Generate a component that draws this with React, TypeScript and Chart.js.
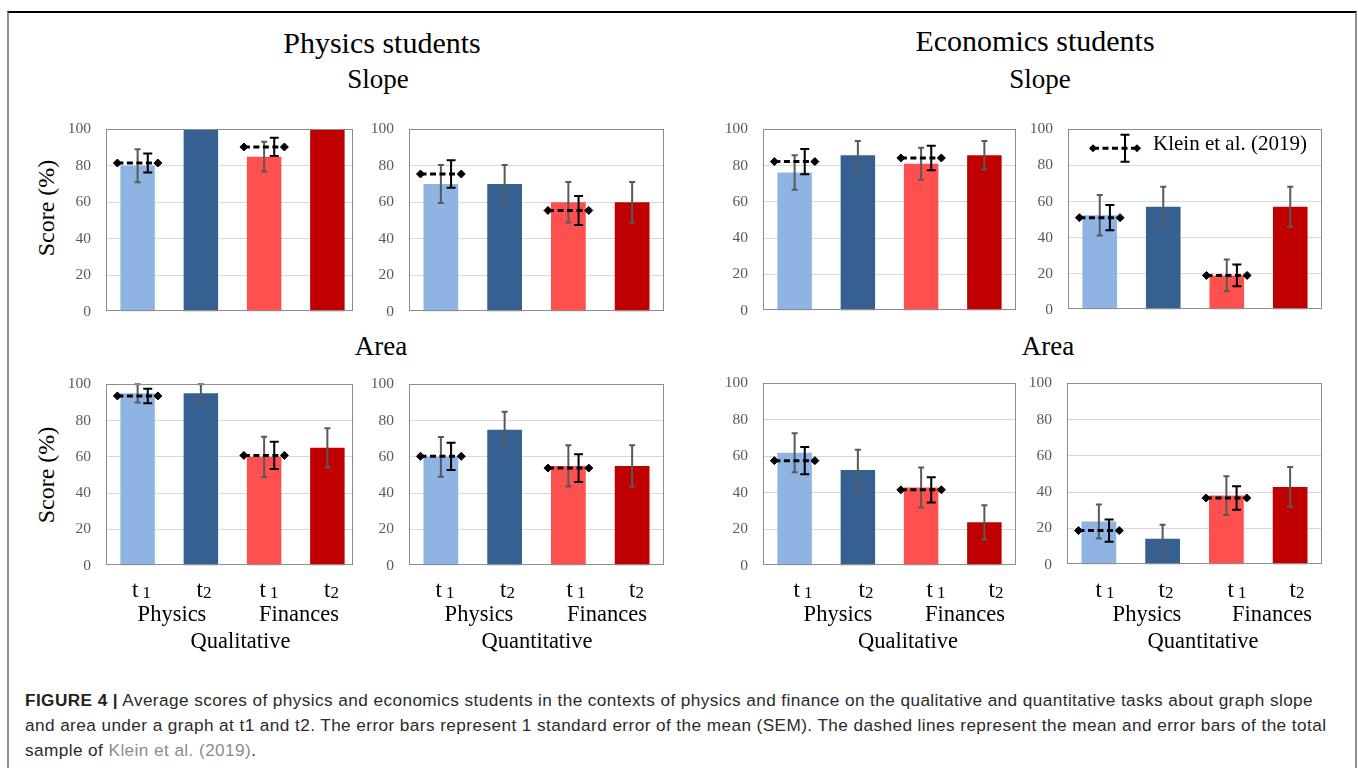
import React, { useEffect, useRef } from "react";
import { Chart, registerables } from "chart.js";

Chart.register(...registerables);

const SERIF = '"Liberation Serif", "Times New Roman", serif';
const SANS = '"Liberation Sans", Arial, Helvetica, sans-serif';

// Bar order in every panel: physics t1, physics t2, finances t1, finances t2
const categories = ["Physics t1", "Physics t2", "Finances t1", "Finances t2"];
const barColors = ["#8EB4E3", "#376092", "#FF5050", "#C00000"];
const yTickStep = 20;
const yMax = 100;
const timeSubscripts = ["1", "2", "1", "2"];
const contextLabels = ["Physics", "Finances"];
const taskLabels = ["Qualitative", "Quantitative"];
const legendLabel = "Klein et al. (2019)";

// Physics students, slope
const physSlopeQualMean = [80, 100, 85, 100];
const physSlopeQualSem = [9, 0, 8.2, 0];
const physSlopeQualKlein = [81.5, null, 90.3, null];
const physSlopeQualKleinSem = [5.2, null, 5, null];

const physSlopeQuantMean = [70, 70, 60, 60];
const physSlopeQuantSem = [10.4, 10.4, 11.1, 11.1];
const physSlopeQuantKlein = [75.5, null, 55.5, null];
const physSlopeQuantKleinSem = [7.6, null, 8, null];

// Economics students, slope
const econSlopeQualMean = [76.2, 85.7, 81, 85.7];
const econSlopeQualSem = [9.5, 7.8, 8.8, 7.8];
const econSlopeQualKlein = [82.2, null, 84.2, null];
const econSlopeQualKleinSem = [7, null, 6.8, null];

const econSlopeQuantMean = [52.4, 57.1, 19, 57.1];
const econSlopeQuantSem = [11.2, 11.1, 8.8, 11.1];
const econSlopeQuantKlein = [51, null, 19, null];
const econSlopeQuantKleinSem = [7, null, 6, null];

// Physics students, area
const physAreaQualMean = [95, 95, 60, 65];
const physAreaQualSem = [5, 5, 11.1, 10.8];
const physAreaQualKlein = [93.6, null, 60.8, null];
const physAreaQualKleinSem = [4, null, 7.5, null];

const physAreaQuantMean = [60, 75, 55, 55];
const physAreaQuantSem = [11, 9.8, 11.4, 11.4];
const physAreaQuantKlein = [60.3, null, 53.8, null];
const physAreaQuantKleinSem = [7.5, null, 7.7, null];

// Economics students, area
const econAreaQualMean = [61.9, 52.4, 42.9, 23.8];
const econAreaQualSem = [10.7, 11.2, 11, 9.4];
const econAreaQualKlein = [57.6, null, 41.6, null];
const econAreaQualKleinSem = [7.5, null, 6.9, null];

const econAreaQuantMean = [23.8, 14.3, 38.1, 42.9];
const econAreaQuantSem = [9.4, 7.7, 10.7, 11];
const econAreaQuantKlein = [18.8, null, 36.8, null];
const econAreaQuantKleinSem = [6.1, null, 6.5, null];

type Box = { l: number; t: number; r: number; b: number };
type PanelProps = {
  box: Box;
  mean: number[];
  sem: number[];
  klein: (number | null)[];
  kleinSem: (number | null)[];
  frameInset?: number;
  legend?: boolean;
};

const panels: PanelProps[] = [
  { box: { l: 106, t: 125, r: 359, b: 316 }, frameInset: 6, mean: physSlopeQualMean, sem: physSlopeQualSem, klein: physSlopeQualKlein, kleinSem: physSlopeQualKleinSem },
  { box: { l: 409, t: 125, r: 664, b: 316 }, mean: physSlopeQuantMean, sem: physSlopeQuantSem, klein: physSlopeQuantKlein, kleinSem: physSlopeQuantKleinSem },
  { box: { l: 763, t: 125, r: 1016, b: 315 }, mean: econSlopeQualMean, sem: econSlopeQualSem, klein: econSlopeQualKlein, kleinSem: econSlopeQualKleinSem },
  { box: { l: 1068, t: 125, r: 1322, b: 314 }, legend: true, mean: econSlopeQuantMean, sem: econSlopeQuantSem, klein: econSlopeQuantKlein, kleinSem: econSlopeQuantKleinSem },
  { box: { l: 106, t: 380, r: 359, b: 570 }, frameInset: 6, mean: physAreaQualMean, sem: physAreaQualSem, klein: physAreaQualKlein, kleinSem: physAreaQualKleinSem },
  { box: { l: 409, t: 380, r: 664, b: 570 }, mean: physAreaQuantMean, sem: physAreaQuantSem, klein: physAreaQuantKlein, kleinSem: physAreaQuantKleinSem },
  { box: { l: 763, t: 379, r: 1016, b: 570 }, mean: econAreaQualMean, sem: econAreaQualSem, klein: econAreaQualKlein, kleinSem: econAreaQualKleinSem },
  { box: { l: 1067, t: 379, r: 1322, b: 569 }, mean: econAreaQuantMean, sem: econAreaQuantSem, klein: econAreaQuantKlein, kleinSem: econAreaQuantKleinSem },
];

// Axis label placement under the lower panels (x centres)
const lowerAxisLabels = [
  { t: [141.5, 204, 269, 331.5], ctx: [172, 299], task: 240.5, taskIdx: 0 },
  { t: [445, 507.5, 576, 636.5], ctx: [479, 607], task: 537, taskIdx: 1 },
  { t: [803, 866, 936, 996], ctx: [838, 965], task: 908, taskIdx: 0 },
  { t: [1105, 1166, 1237, 1297], ctx: [1147, 1272], task: 1203, taskIdx: 1 },
];

const PAD_L = 70;
const PAD_T = 20;
const PAD_R = 20;
const PAD_B = 20;

function errorBar(ctx: CanvasRenderingContext2D, x: number, yTop: number, yBot: number, cap: number) {
  ctx.beginPath();
  ctx.moveTo(x, yTop);
  ctx.lineTo(x, yBot);
  ctx.moveTo(x - cap, yTop);
  ctx.lineTo(x + cap, yTop);
  ctx.moveTo(x - cap, yBot);
  ctx.lineTo(x + cap, yBot);
  ctx.stroke();
}

function diamond(ctx: CanvasRenderingContext2D, x: number, y: number, r: number) {
  ctx.beginPath();
  ctx.moveTo(x - r, y);
  ctx.lineTo(x, y - r);
  ctx.lineTo(x + r, y);
  ctx.lineTo(x, y + r);
  ctx.closePath();
  ctx.fill();
}

function BarPanel({ box, mean, sem, klein, kleinSem, frameInset = 0, legend = false }: PanelProps) {
  const ref = useRef<HTMLCanvasElement>(null);
  const w = box.r - box.l + PAD_L + PAD_R;
  const h = box.b - box.t + PAD_T + PAD_B;
  const left = box.l - PAD_L;
  const top = box.t - PAD_T;
  const clipW = frameInset ? w - PAD_R - frameInset + 1 : w;

  useEffect(() => {
    const canvas = ref.current;
    if (!canvas) return;

    const kleinSets: any[] = [];
    klein.forEach((v, i) => {
      if (v == null) return;
      kleinSets.push({
        type: "line",
        xAxisID: "xk",
        yAxisID: "y",
        data: [
          { x: i - 0.32, y: v },
          { x: i + 0.32, y: v },
        ],
        borderColor: "#000",
        borderWidth: 3,
        borderDash: [6, 3.5],
        pointStyle: "rectRot",
        pointRadius: 4,
        pointHoverRadius: 4,
        pointBackgroundColor: "#000",
        pointBorderColor: "#000",
        pointBorderWidth: 1,
        order: 0,
      });
    });

    const marks = {
      id: "scoreMarks",
      afterDatasetDraw(chart: any, args: any) {
        if (args.index !== 0) return;
        const ctx = chart.ctx as CanvasRenderingContext2D;
        const xs = chart.scales.x;
        const ys = chart.scales.y;
        ctx.save();
        ctx.strokeStyle = "#595959";
        ctx.lineWidth = 2;
        mean.forEach((m, i) => {
          const s = sem[i];
          if (!s) return;
          errorBar(ctx, xs.getPixelForValue(i), ys.getPixelForValue(m + s), ys.getPixelForValue(m - s), 3);
        });
        ctx.restore();
      },
      afterDatasetsDraw(chart: any) {
        const ctx = chart.ctx as CanvasRenderingContext2D;
        const a = chart.chartArea;
        const xk = chart.scales.xk;
        const ys = chart.scales.y;
        ctx.save();
        // plot frame
        ctx.strokeStyle = "#8C8C8C";
        ctx.lineWidth = 1;
        const right = a.right - frameInset;
        ctx.strokeRect(Math.round(a.left) + 0.5, Math.round(a.top) + 0.5, Math.round(right - a.left) - 1, Math.round(a.bottom - a.top) - 1);
        // reference sample error bars
        ctx.strokeStyle = "#000";
        ctx.lineWidth = 2;
        klein.forEach((v, i) => {
          const s = kleinSem[i];
          if (v == null || s == null) return;
          errorBar(ctx, xk.getPixelForValue(i + 0.16), ys.getPixelForValue(v + s), ys.getPixelForValue(v - s), 4.5);
        });
        if (legend) {
          const ly = a.top + 19;
          const x1 = a.left + 25;
          const x2 = a.left + 69;
          ctx.setLineDash([6, 3.5]);
          ctx.lineWidth = 3;
          ctx.beginPath();
          ctx.moveTo(x1, ly);
          ctx.lineTo(x2, ly);
          ctx.stroke();
          ctx.setLineDash([]);
          ctx.fillStyle = "#000";
          diamond(ctx, x1, ly, 4);
          diamond(ctx, x2, ly, 4);
          ctx.lineWidth = 2;
          errorBar(ctx, a.left + 57, ly - 13.5, ly + 13.5, 4.5);
        }
        ctx.restore();
      },
    };

    const chart = new Chart(canvas, {
      type: "bar",
      data: {
        labels: categories,
        datasets: [
          {
            type: "bar",
            data: mean,
            backgroundColor: barColors,
            borderWidth: 0,
            grouped: false,
            barPercentage: 0.545,
            categoryPercentage: 1,
            order: 1,
          } as any,
          ...kleinSets,
        ],
      },
      options: {
        animation: false,
        responsive: false,
        maintainAspectRatio: false,
        events: [],
        layout: { padding: { left: 0, top: PAD_T, right: PAD_R, bottom: PAD_B } },
        plugins: { legend: { display: false }, tooltip: { enabled: false } },
        scales: {
          x: { display: false, offset: true, grid: { display: false } },
          xk: { type: "linear", display: false, offset: false, grid: { offset: false }, min: -0.5, max: 3.5 },
          y: {
            min: 0,
            max: yMax,
            afterFit: (s: any) => {
              s.width = PAD_L;
            },
            border: { display: false },
            grid: {
              drawTicks: false,
              lineWidth: 1,
              color: (c: any) =>
                c.tick && c.tick.value > 0 && c.tick.value < yMax ? "#D9D9D9" : "rgba(0,0,0,0)",
            },
            ticks: {
              stepSize: yTickStep,
              padding: 15,
              color: "#595959",
              font: { family: '"Liberation Serif", "Times New Roman", serif', size: 15.5 },
            },
          },
        } as any,
      },
      plugins: [marks],
    });
    return () => chart.destroy();
  }, []);

  return (
    <div style={{ position: "absolute", left, top, width: clipW, height: h, overflow: "hidden" }}>
      <canvas ref={ref} width={w} height={h} style={{ display: "block", width: w, height: h }} />
    </div>
  );
}

function Txt({
  x,
  y,
  size,
  children,
  align = "center",
  family = SERIF,
  color = "#000",
  weight = 400,
  spacing = 0,
}: {
  x: number;
  y: number;
  size: number;
  children: React.ReactNode;
  align?: "left" | "center" | "right";
  family?: string;
  color?: string;
  weight?: number;
  spacing?: number;
}) {
  const asc = family === SANS ? 0.8465 : 0.8375;
  const shift = align === "center" ? "-50%" : align === "right" ? "-100%" : "0";
  return (
    <div
      style={{
        position: "absolute",
        left: x,
        top: y - size * asc,
        fontFamily: family,
        fontSize: size,
        lineHeight: `${size}px`,
        letterSpacing: spacing,
        color,
        fontWeight: weight,
        whiteSpace: "pre",
        transform: `translateX(${shift})`,
      }}
    >
      {children}
    </div>
  );
}

function YTitle({ cy }: { cy: number }) {
  return (
    <div
      style={{
        position: "absolute",
        left: 46,
        top: cy,
        fontFamily: SERIF,
        fontSize: 24,
        lineHeight: "24px",
        whiteSpace: "pre",
        transform: "translate(-50%, -50%) rotate(-90deg)",
      }}
    >
      Score (%)
    </div>
  );
}

function TimeLabel({ x, sub }: { x: number; sub: string }) {
  return (
    <Txt x={x} y={597} size={23}>
      t
      <span style={{ fontSize: 17, position: "relative", top: 1.5 }}>{sub === "1" ? "\u00a01" : sub}</span>
    </Txt>
  );
}

export default function App() {
  const capColor = "#2a2a2a";
  const capSize = 17.2;
  const capSpacing = 0.42;
  return (
    <div style={{ position: "absolute", left: 0, top: 0, width: 1358, height: 768, overflow: "hidden", background: "#fff" }}>
      <div
        style={{
          position: "absolute",
          left: 7,
          top: 11,
          width: 1350,
          height: 800,
          boxSizing: "border-box",
          borderTop: "2px solid #000",
          borderLeft: "2px solid #8f8f8f",
          borderRight: "2px solid #8f8f8f",
        }}
      />

      <Txt x={382} y={53} size={30}>Physics students</Txt>
      <Txt x={1035} y={51} size={30}>Economics students</Txt>
      <Txt x={378} y={89} size={27}>Slope</Txt>
      <Txt x={1040} y={89} size={27}>Slope</Txt>
      <Txt x={381} y={356} size={27}>Area</Txt>
      <Txt x={1048} y={356} size={27}>Area</Txt>

      <YTitle cy={208} />
      <YTitle cy={475} />

      {panels.map((p, i) => (
        <BarPanel key={i} {...p} />
      ))}

      <Txt x={1153} y={150.5} size={21} align="left">{legendLabel}</Txt>

      {lowerAxisLabels.map((g, gi) => (
        <React.Fragment key={gi}>
          {g.t.map((x, i) => (
            <TimeLabel key={i} x={x} sub={timeSubscripts[i]} />
          ))}
          {g.ctx.map((x, i) => (
            <Txt key={"c" + i} x={x} y={621.5} size={22.5}>{contextLabels[i]}</Txt>
          ))}
          <Txt x={g.task} y={649} size={22.5}>{taskLabels[g.taskIdx]}</Txt>
        </React.Fragment>
      ))}

      <Txt x={25} y={706.5} size={capSize} spacing={capSpacing} family={SANS} align="left" color={capColor}>
        <span style={{ fontWeight: 700, color: "#231f20" }}>FIGURE 4 |</span> Average scores of physics and economics students in the contexts of physics and finance on the qualitative and quantitative tasks about graph slope
      </Txt>
      <Txt x={25} y={732} size={capSize} spacing={capSpacing} family={SANS} align="left" color={capColor}>
        and area under a graph at t1 and t2. The error bars represent 1 standard error of the mean (SEM). The dashed lines represent the mean and error bars of the total
      </Txt>
      <Txt x={25} y={757} size={capSize} spacing={capSpacing} family={SANS} align="left" color={capColor}>
        sample of <span style={{ color: "#8c8c8c" }}>Klein et al. (2019)</span>.
      </Txt>
    </div>
  );
}
